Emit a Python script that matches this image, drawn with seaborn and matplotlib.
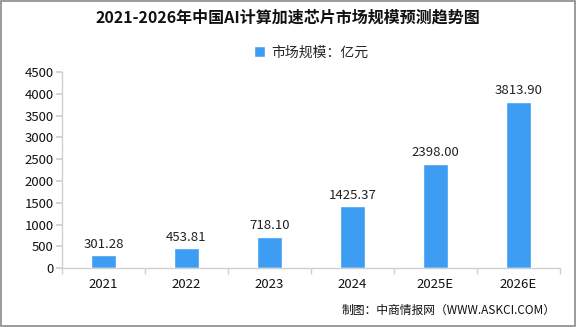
import matplotlib
matplotlib.use("Agg")
import matplotlib.pyplot as plt
import seaborn as sns
import pandas as pd
from matplotlib.patches import Rectangle

years = ["2021", "2022", "2023", "2024", "2025E", "2026E"]
values = [301.28, 453.81, 718.10, 1425.37, 2398.00, 3813.90]
yticks = [0, 500, 1000, 1500, 2000, 2500, 3000, 3500, 4000, 4500]

sns.set_theme(style="white")
plt.rcParams["font.family"] = ["Noto Sans CJK SC", "DejaVu Sans"]

df = pd.DataFrame({"year": years, "value": values})

fig = plt.figure(figsize=(5.76, 3.27), dpi=100)
ax = fig.add_axes([0.1076, 0.180, 0.8646, 0.600])

bar_color = "#3d9df3"
sns.barplot(data=df, x="year", y="value", color=bar_color, width=0.31,
            saturation=1, ax=ax, label="市场规模：亿元")

for i, v in enumerate(values):
    ax.text(i, v + 100, f"{v:.2f}", ha="center", va="bottom", fontsize=9.5,
            color="#222222")

ax.set_ylim(0, 4500)
ax.set_xlim(-0.5, len(years) - 0.5)
ax.set_yticks(yticks)
ax.set_yticklabels([str(t) for t in yticks], fontsize=9.5, color="#111111")
ax.set_xticks(range(len(years)))
ax.set_xticklabels(years, fontsize=9.5, color="#111111")
ax.set_xlabel("")
ax.set_ylabel("")

for s in ["top", "right"]:
    ax.spines[s].set_visible(False)
for s in ["left", "bottom"]:
    ax.spines[s].set_color("#d0d0d0")
    ax.spines[s].set_linewidth(1)

ax.tick_params(axis="y", which="major", length=4, color="#d0d0d0", left=True,
               pad=2)
ax.tick_params(axis="x", which="major", length=0, pad=7)
ax.set_xticks([i - 0.5 for i in range(len(years) + 1)], minor=True)
ax.tick_params(axis="x", which="minor", length=4, color="#d0d0d0", bottom=True)

leg = ax.legend(loc="center", bbox_to_anchor=(0.5, 1.10), frameon=False,
                fontsize=10, handlelength=0.8, handleheight=0.8,
                handletextpad=0.4)

fig.text(0.5, 0.946, "2021-2026年中国AI计算加速芯片市场规模预测趋势图",
         ha="center", va="center", fontsize=11.5, fontweight="bold",
         color="#111111")
fig.text(0.965, 0.052, "制图：中商情报网（WWW.ASKCI.COM）", ha="right",
         va="center", fontsize=8.5, color="#111111")

fig.patches.append(Rectangle((0.001, 0.002), 0.997, 0.995,
                             transform=fig.transFigure, fill=False,
                             edgecolor="#8a8a8a", linewidth=1.2))

fig.savefig("out.png", dpi=100)
